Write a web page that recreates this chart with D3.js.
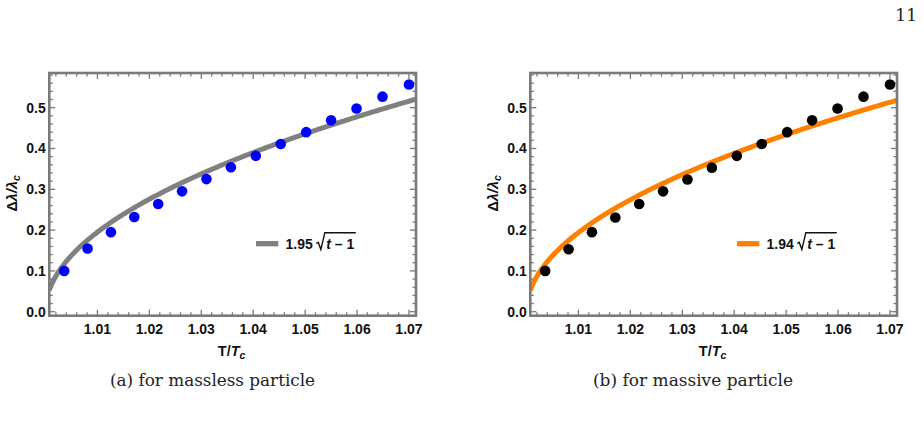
<!DOCTYPE html>
<html>
<head>
<meta charset="utf-8">
<script src="https://cdn.jsdelivr.net/npm/d3@7"></script>
<style>
  html, body { margin: 0; padding: 0; background: #fff; }
  svg { display: block; }
</style>
</head>
<body>
<svg id="chart" width="924" height="423"></svg>
<script>
// ---------------- data ----------------
const xTicks = [1.01, 1.02, 1.03, 1.04, 1.05, 1.06, 1.07];
const xTickLabels = ["1.01", "1.02", "1.03", "1.04", "1.05", "1.06", "1.07"];
const yTicks = [0.0, 0.1, 0.2, 0.3, 0.4, 0.5];
const yTickLabels = ["0.0", "0.1", "0.2", "0.3", "0.4", "0.5"];
const tValues = [1.0036, 1.0081, 1.0126, 1.0171, 1.0217, 1.0263, 1.0310, 1.0357,
                 1.0405, 1.0453, 1.0502, 1.0550, 1.0599, 1.0649, 1.0700];
const masslessValues = [0.100, 0.155, 0.195, 0.232, 0.264, 0.295, 0.325, 0.354,
                        0.382, 0.411, 0.440, 0.469, 0.498, 0.527, 0.557];
const massiveValues  = [0.100, 0.153, 0.195, 0.231, 0.264, 0.295, 0.324, 0.353,
                        0.382, 0.411, 0.440, 0.469, 0.498, 0.527, 0.557];
const fitCoefs = [1.95, 1.94];
const fitLabels = ["1.95", "1.94"];
const captions = ["(a) for massless particle", "(b) for massive particle"];
const xDomain = [1.00073, 1.07135];
const yDomain = [-0.0098, 0.585];

// ---------------- layout ----------------
const svg = d3.select("#chart");
const panels = [
  { left: 49.3, right: 416, top: 73, bottom: 315.7, values: masslessValues, dot: "#0000ff", line: "#808080", coef: fitCoefs[0], label: fitLabels[0], caption: captions[0], capX: 212.5, capW: 205 },
  { left: 530.3, right: 897, top: 73, bottom: 315.7, values: massiveValues, dot: "#000000", line: "#ff8000", coef: fitCoefs[1], label: fitLabels[1], caption: captions[1], capX: 693, capW: 200 }
];
const frameColor = "#7a7a7a";
const sans = "'Liberation Sans', Arial, sans-serif";
const serif = "'DejaVu Serif', 'Liberation Serif', serif";

panels.forEach((p, pi) => {
  const x = d3.scaleLinear().domain(xDomain).range([p.left, p.right]);
  const y = d3.scaleLinear().domain(yDomain).range([p.bottom, p.top]);
  const g = svg.append("g");
  const clipId = "clip" + pi;
  svg.append("clipPath").attr("id", clipId).append("rect")
    .attr("x", p.left).attr("y", p.top).attr("width", p.right - p.left).attr("height", p.bottom - p.top);

  // minor / major ticks (inside, on all four sides)
  const xMinor = d3.range(1.000, 1.0721, 0.002).filter(v => v > xDomain[0] && v < xDomain[1]);
  const yMinor = d3.range(0.0, 0.581, 0.02).filter(v => v > yDomain[0] && v < yDomain[1]);
  const isMajX = v => xTicks.some(t => Math.abs(t - v) < 1e-6);
  const isMajY = v => yTicks.some(t => Math.abs(t - v) < 1e-6);
  const tg = g.append("g").attr("stroke", frameColor).attr("stroke-width", 1.3);
  xMinor.forEach(v => {
    const L = isMajX(v) ? 6 : 3.5;
    tg.append("line").attr("x1", x(v)).attr("x2", x(v)).attr("y1", p.bottom).attr("y2", p.bottom - L);
    tg.append("line").attr("x1", x(v)).attr("x2", x(v)).attr("y1", p.top).attr("y2", p.top + L);
  });
  yMinor.forEach(v => {
    const L = isMajY(v) ? 6 : 3.5;
    tg.append("line").attr("y1", y(v)).attr("y2", y(v)).attr("x1", p.left).attr("x2", p.left + L);
    tg.append("line").attr("y1", y(v)).attr("y2", y(v)).attr("x1", p.right).attr("x2", p.right - L);
  });

  // fit curve
  const ts = d3.range(0, 401).map(i => xDomain[0] + (xDomain[1] - xDomain[0]) * i / 400);
  const line = d3.line().x(t => x(t)).y(t => y(p.coef * Math.sqrt(t - 1)));
  g.append("path").datum(ts).attr("d", line).attr("fill", "none")
    .attr("stroke", p.line).attr("stroke-width", 5).attr("clip-path", `url(#${clipId})`);

  // points
  g.append("g").selectAll("circle").data(tValues).join("circle")
    .attr("cx", d => x(d)).attr("cy", (d, i) => y(p.values[i])).attr("r", 5.3).attr("fill", p.dot);

  // frame
  g.append("rect").attr("x", p.left).attr("y", p.top)
    .attr("width", p.right - p.left).attr("height", p.bottom - p.top)
    .attr("fill", "none").attr("stroke", frameColor).attr("stroke-width", 2.6);

  // tick labels
  g.append("g").selectAll("text").data(xTicks).join("text")
    .attr("x", d => x(d)).attr("y", p.bottom + 18.3).attr("text-anchor", "middle")
    .attr("font-family", sans).attr("font-weight", "bold").attr("font-size", 14).attr("fill", "#111")
    .text((d, i) => xTickLabels[i]);
  g.append("g").selectAll("text").data(yTicks).join("text")
    .attr("x", p.left - 3.5).attr("y", d => y(d) + 5).attr("text-anchor", "end")
    .attr("font-family", sans).attr("font-weight", "bold").attr("font-size", 14).attr("fill", "#111")
    .text((d, i) => yTickLabels[i]);

  // axis labels
  const cx = (p.left + p.right) / 2;
  const xl = g.append("text").attr("x", cx - 1).attr("y", 355.5).attr("text-anchor", "middle")
    .attr("font-family", sans).attr("font-weight", "bold").attr("font-size", 14.5).attr("fill", "#111");
  xl.append("tspan").text("T/");
  xl.append("tspan").attr("font-style", "italic").text("T");
  xl.append("tspan").attr("font-style", "italic").attr("font-size", 10.5).attr("dy", 3).text("c");

  const cy = (p.top + p.bottom) / 2;
  const yl = g.append("text").attr("transform", `translate(${p.left - 32.5},${cy - 1}) rotate(-90)`)
    .attr("text-anchor", "middle")
    .attr("font-family", sans).attr("font-weight", "bold").attr("font-size", 14.5).attr("fill", "#111");
  yl.append("tspan").text("Δ");
  yl.append("tspan").attr("font-style", "italic").text("λ/λ");
  yl.append("tspan").attr("font-style", "italic").attr("font-size", 10.5).attr("dy", 3).text("c");

  // legend
  const lx = p.left + 206.7, ly = 243.7, base = 248.5;
  g.append("line").attr("x1", lx).attr("x2", lx + 22.3).attr("y1", ly).attr("y2", ly)
    .attr("stroke", p.line).attr("stroke-width", 5.3);
  const lt = g.append("text").attr("x", lx + 29.5).attr("y", base)
    .attr("font-family", sans).attr("font-weight", "bold").attr("font-size", 14).attr("fill", "#111")
    .text(p.label);
  const w1 = lt.node().getComputedTextLength();
  const rx = lx + 29.5 + w1 + 3.5;
  const inner = g.append("text").attr("x", rx + 10).attr("y", base)
    .attr("font-family", sans).attr("font-weight", "bold").attr("font-size", 14).attr("fill", "#111");
  inner.append("tspan").attr("font-style", "italic").text("t");
  inner.append("tspan").text(" – 1");
  const wi = inner.node().getComputedTextLength();
  const topY = base - 15.8;
  g.append("path")
    .attr("d", `M${rx},${base - 5} L${rx + 2},${base - 6.2} L${rx + 4.6},${base + 1} L${rx + 8.6},${topY} L${rx + 10 + wi + 1.5},${topY}`)
    .attr("fill", "none").attr("stroke", "#111").attr("stroke-width", 1.4).attr("stroke-linejoin", "miter");

  // caption
  svg.append("text").attr("x", p.capX).attr("y", 386).attr("text-anchor", "middle")
    .attr("font-family", serif).attr("font-size", 16).attr("fill", "#222")
    .attr("textLength", p.capW).attr("lengthAdjust", "spacingAndGlyphs")
    .text(p.caption);
});

// page number
svg.append("text").attr("x", 917).attr("y", 21).attr("text-anchor", "end")
  .attr("font-family", serif).attr("font-size", 17).attr("fill", "#222").text("11");
</script>
</body>
</html>
